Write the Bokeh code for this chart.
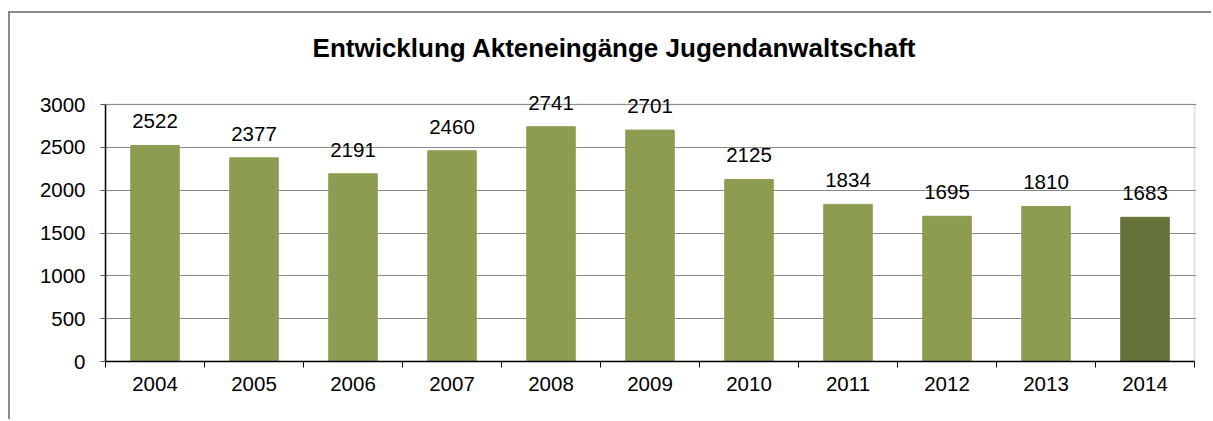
from bokeh.plotting import figure
from bokeh.models import ColumnDataSource, LabelSet, Label, FixedTicker, Range1d, BoxAnnotation
from bokeh.core.properties import value
from bokeh.embed import file_html
from bokeh.resources import INLINE

years = ["2004", "2005", "2006", "2007", "2008", "2009", "2010", "2011", "2012", "2013", "2014"]
values = [2522, 2377, 2191, 2460, 2741, 2701, 2125, 1834, 1695, 1810, 1683]
colors = ["#8c9d52"] * 10 + ["#66733a"]
y_ticks = [0, 500, 1000, 1500, 2000, 2500, 3000]
title_text = "Entwicklung Akteneingänge Jugendanwaltschaft"

FONT = "Liberation Sans"

# layout (page pixels)
canvas_left, canvas_top = 10, 13
frame_left, frame_right = 105, 1196
frame_top_px, axis_px, value_top_px = 20, 361, 104
W, H = 1203, 408
y_max = 3000
y_end = y_max * (axis_px - frame_top_px) / (axis_px - value_top_px)
n = len(years)
x_end = n + 0.02

xpos = [i + 0.5 for i in range(n)]
src = ColumnDataSource(dict(x=xpos, top=values, color=colors, label=[str(v) for v in values]))

p = figure(width=W, height=H, output_backend="svg", toolbar_location=None,
           x_range=Range1d(0, x_end), y_range=Range1d(0, y_end),
           min_border_left=frame_left - canvas_left, min_border_right=canvas_left + W - frame_right,
           min_border_top=frame_top_px - canvas_top, min_border_bottom=canvas_top + H - axis_px)
p.styles = {"border-left": "2px solid #8a8a8a", "border-top": "2px solid #8a8a8a",
            "margin-top": "11px", "margin-left": "8px"}

p.vbar(x="x", top="top", width=0.49, color="color", source=src)

# plot-area frame (top and right edges)
p.add_layout(BoxAnnotation(left=0, right=n, bottom=0, top=y_max, fill_color=None,
                           line_color="#a0a0a0", line_width=2, level="underlay"))

labels = LabelSet(x="x", y="top", text="label", source=src, text_align="center",
                  text_baseline="alphabetic", y_offset=17, text_font=value(FONT),
                  text_font_size="20.5px", text_color="black")
p.add_layout(labels)

p.add_layout(Label(x=n / 2, y=y_max, x_offset=-35.5, y_offset=57, text=title_text,
                   text_align="center", text_baseline="alphabetic", text_font=FONT,
                   text_font_size="26px", text_font_style="bold", text_color="black"))

# axes
p.xaxis.ticker = FixedTicker(ticks=xpos, minor_ticks=list(range(n + 1)))
p.xaxis.major_label_overrides = {x: y for x, y in zip(xpos, years)}
p.xaxis.major_tick_line_color = None
p.xaxis.minor_tick_line_color = "black"
p.xaxis.minor_tick_in = 0
p.xaxis.minor_tick_out = 6
p.xaxis.axis_line_color = "black"
p.xaxis.axis_line_width = 1.5
p.xaxis.bounds = (0, n)
p.xaxis.major_label_standoff = 9
p.xaxis.major_label_text_font = FONT
p.xaxis.major_label_text_font_size = "20.5px"
p.xaxis.major_label_text_color = "black"

p.yaxis.ticker = FixedTicker(ticks=y_ticks)
p.yaxis.bounds = (0, y_max)
p.yaxis.minor_tick_line_color = None
p.yaxis.major_tick_in = 0
p.yaxis.major_tick_out = 5
p.yaxis.major_tick_line_color = "#555555"
p.yaxis.axis_line_color = "black"
p.yaxis.axis_line_width = 1.5
p.yaxis.major_label_standoff = 15
p.yaxis.major_label_text_font = FONT
p.yaxis.major_label_text_font_size = "20.5px"
p.yaxis.major_label_text_color = "black"

p.xgrid.grid_line_color = None
p.ygrid.grid_line_color = "#8a8a8a"
p.ygrid.grid_line_width = 1

p.outline_line_color = None
p.background_fill_color = "white"
p.border_fill_color = "white"

open("out.html", "w").write(file_html(p, INLINE))
